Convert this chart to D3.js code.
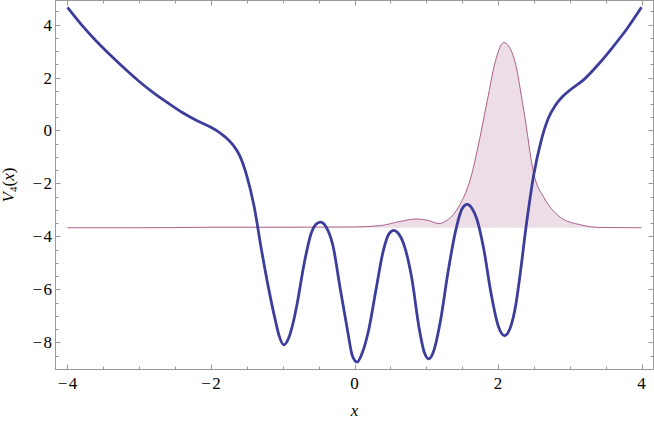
<!DOCTYPE html>
<html><head><meta charset="utf-8">
<script src="https://cdn.jsdelivr.net/npm/d3@7"></script>
<style>body{margin:0;background:#fff}svg{display:block}text{font-family:"Liberation Serif","Times New Roman",serif}</style>
</head><body>
<svg id="c" width="654" height="421"></svg>
<script>
const potX = [-4.0,-3.8,-3.6,-3.4,-3.2,-3.0,-2.8,-2.6,-2.4,-2.2,-2.0,-1.9,-1.8,-1.7,-1.6,-1.5,-1.4,-1.3,-1.2,-1.1,-1.05,-0.985,-0.92,-0.85,-0.8,-0.7,-0.6,-0.54,-0.474,-0.4,-0.3,-0.2,-0.1,-0.03,0.037,0.1,0.2,0.3,0.4,0.48,0.548,0.6,0.7,0.8,0.9,0.97,1.036,1.1,1.2,1.3,1.4,1.5,1.571,1.64,1.7,1.8,1.9,2.0,2.09,2.17,2.25,2.3,2.4,2.5,2.6,2.7,2.8,2.9,3.0,3.2,3.4,3.6,3.8,4.0];
const potV = [4.65,3.98,3.38,2.84,2.33,1.85,1.42,1.04,0.68,0.38,0.12,-0.04,-0.25,-0.52,-0.95,-1.72,-2.85,-4.45,-5.92,-7.2,-7.75,-8.09,-7.85,-7.2,-6.55,-5.0,-3.85,-3.55,-3.46,-3.62,-4.35,-5.95,-7.5,-8.5,-8.74,-8.45,-7.5,-6.0,-4.55,-3.9,-3.77,-3.85,-4.4,-5.6,-7.45,-8.35,-8.62,-8.35,-7.15,-5.4,-3.9,-2.95,-2.79,-2.95,-3.3,-4.45,-6.1,-7.35,-7.74,-7.45,-6.55,-5.6,-3.45,-1.64,-0.4,0.45,0.95,1.28,1.52,1.93,2.5,3.15,3.85,4.65];
// Energy level (baseline) and scaled probability density above it
const energy = -3.67;
const densX = [-4,-3,-2.5,-2,-1,0,0.36,0.64,0.87,1.02,1.175,1.29,1.384,1.45,1.52,1.571,1.617,1.71,1.85,1.965,2.08,2.22,2.36,2.5,2.64,2.75,2.87,3.15,3.43,4];
const densY = [0,0,0.005,0.02,0.02,0.03,0.08,0.24,0.33,0.28,0.16,0.28,0.52,0.78,1.14,1.48,1.85,2.91,4.79,6.3,6.99,6.43,4.41,2.02,1.14,0.7,0.39,0.11,0.01,0];
const xTicks = [-4,-2,0,2,4];
const yTicks = [4,2,0,-2,-4,-6,-8];
const xDomain = [-4.167,4.167];
const yDomain = [-9.02,4.906];

const svg = d3.select('#c');
const L=55.5, R=653.5, T=0.5, B=369.5;
const x = d3.scaleLinear().domain(xDomain).range([L,R]);
const y = d3.scaleLinear().domain(yDomain).range([B,T]);

svg.append('defs').append('clipPath').attr('id','clip')
  .append('rect').attr('x',L).attr('y',T).attr('width',R-L).attr('height',B-T);

const pot = potX.map((d,i)=>[d,potV[i]]);
const dens = densX.map((d,i)=>[d,densY[i]]);
const g = svg.append('g').attr('clip-path','url(#clip)');

g.append('path').datum(dens)
  .attr('d', d3.area().x(d=>x(d[0])).y0(y(energy)).y1(d=>y(energy+d[1])).curve(d3.curveMonotoneX))
  .attr('fill','#eddde6').attr('stroke','none');
g.append('path').datum(dens)
  .attr('d', d3.line().x(d=>x(d[0])).y(d=>y(energy+d[1])).curve(d3.curveMonotoneX))
  .attr('fill','none').attr('stroke','#a0507e').attr('stroke-width',0.9);
g.append('path').datum(pot)
  .attr('d', d3.line().x(d=>x(d[0])).y(d=>y(d[1])).curve(d3.curveMonotoneX))
  .attr('fill','none').attr('stroke','#3d3d9c').attr('stroke-width',2.8)
  .attr('stroke-linejoin','round');

// Frame with ticks on all four sides
const frameCol = '#999';
const xMinor = d3.range(-4,4.01,0.5);
const yMinor = d3.range(-9,4.91,0.5);
const fr = svg.append('g');
fr.append('rect').attr('x',L).attr('y',T).attr('width',R-L).attr('height',B-T)
  .attr('fill','none').attr('stroke',frameCol).attr('stroke-width',1);
const isMaj = (v,arr)=>arr.some(a=>Math.abs(a-v)<1e-6);
xMinor.forEach(v=>{
  const len = isMaj(v,xTicks)?5:3, px = Math.round(x(v))+0.5;
  fr.append('line').attr('x1',px).attr('x2',px).attr('y1',B).attr('y2',B-len).attr('stroke',frameCol);
  fr.append('line').attr('x1',px).attr('x2',px).attr('y1',T).attr('y2',T+len).attr('stroke',frameCol);
});
yMinor.forEach(v=>{
  const len = isMaj(v,yTicks)?5:3, py = Math.round(y(v))+0.5;
  fr.append('line').attr('y1',py).attr('y2',py).attr('x1',L).attr('x2',L+len).attr('stroke',frameCol);
  fr.append('line').attr('y1',py).attr('y2',py).attr('x1',R).attr('x2',R-len).attr('stroke',frameCol);
});

const fmt = v => (v<0?'\u2212\u200A':'')+Math.abs(v);
svg.append('g').selectAll('text').data(xTicks).join('text')
  .attr('x',d=>x(d)).attr('y',389).attr('text-anchor','middle')
  .attr('font-size',17).attr('fill','#000').text(fmt);
svg.append('g').selectAll('text').data(yTicks).join('text')
  .attr('x',52).attr('y',d=>y(d)+6).attr('text-anchor','end')
  .attr('font-size',17).attr('fill','#000').text(fmt);

svg.append('text').attr('x',x(0)).attr('y',416).attr('text-anchor','middle')
  .attr('font-size',17).attr('font-style','italic').text('x');

const yl = svg.append('text').attr('transform',`translate(13.5,${(T+B)/2}) rotate(-90)`)
  .attr('text-anchor','middle').attr('font-size',17);
yl.append('tspan').attr('font-style','italic').text('V');
yl.append('tspan').attr('font-size',11).attr('dy',3).text('4');
yl.append('tspan').attr('dy',-3).text('(');
yl.append('tspan').attr('font-style','italic').text('x');
yl.append('tspan').text(')');
</script>
</body></html>
